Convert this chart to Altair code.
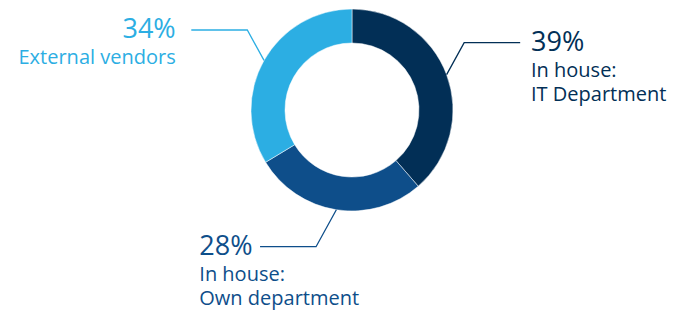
import math
import altair as alt
import pandas as pd

# ---- data ----
categories = ["In house: IT Department", "In house: Own department", "External vendors"]
values = [39, 28, 34]
pct_labels = ["39%", "28%", "34%"]
label_lines = [["In house:", "IT Department"], ["In house:", "Own department"], ["External vendors"]]
colors = ["#022F56", "#0E4E8A", "#2CAEE3"]

# ---- layout (pixels, chart coords) ----
CX, CY = 344, 102
R_IN, R_OUT = 67, 101
FONT = "Open Sans"
NUM_SIZE = 27
LAB_SIZE = 20
# per label: y of horizontal leader, horizontal direction, text anchor x, text align
layout = [
    dict(line_y=34.7, dir=1, text_x=523, align="left"),
    dict(line_y=238.7, dir=-1, text_x=191.3, align="left"),
    dict(line_y=22.0, dir=-1, text_x=167.7, align="right"),
]
SLOPE = 0.55
HLEN = 56

df = pd.DataFrame({"category": categories, "value": values, "order": list(range(len(values)))})

total = sum(values)
cum = 0
line_rows, text_rows = [], []
for i, v in enumerate(values):
    mid = (cum + v / 2) / total * 2 * math.pi
    cum += v
    sx = CX + R_OUT * math.sin(mid)
    sy = CY - R_OUT * math.cos(mid)
    L = layout[i]
    ey = L["line_y"]
    ex = sx + L["dir"] * SLOPE * abs(ey - sy)
    hx = ex + L["dir"] * HLEN
    for j, (px, py) in enumerate([(sx, sy), (ex, ey), (hx, ey)]):
        line_rows.append(dict(g=i, seq=j, px=px, py=py, c=colors[i]))
    ty = ey + 8
    text_rows.append(dict(tx=L["text_x"], ty=ty, t=pct_labels[i], c=colors[i], s=NUM_SIZE, a=L["align"]))
    for k, ln in enumerate(label_lines[i]):
        text_rows.append(dict(tx=L["text_x"], ty=ty + 26 + 24 * k, t=ln, c=colors[i], s=LAB_SIZE, a=L["align"]))

lines_df = pd.DataFrame(line_rows)
text_df = pd.DataFrame(text_rows)

donut = alt.Chart(df).mark_arc(innerRadius=R_IN, outerRadius=R_OUT, stroke="white", strokeWidth=0.5).encode(
    theta=alt.Theta("value:Q", stack=True),
    color=alt.Color("category:N", scale=alt.Scale(domain=categories, range=colors), legend=None),
    order=alt.Order("order:Q"),
    x=alt.value(CX),
    y=alt.value(CY),
)

leaders = alt.Chart(lines_df).mark_line(strokeWidth=1.3).encode(
    x=alt.X("px:Q", scale=None),
    y=alt.Y("py:Q", scale=None),
    detail="g:N",
    order="seq:Q",
    color=alt.Color("c:N", scale=None),
)

def text_layer(align):
    return alt.Chart(text_df[text_df["a"] == align]).mark_text(
        align=align, baseline="alphabetic", font=FONT
    ).encode(
        x=alt.X("tx:Q", scale=None),
        y=alt.Y("ty:Q", scale=None),
        text="t:N",
        color=alt.Color("c:N", scale=None),
        size=alt.Size("s:Q", scale=None),
    )

chart = alt.layer(donut, leaders, text_layer("left"), text_layer("right")).properties(
    width=660, height=302, padding=0, autosize="none"
).configure_view(stroke=None)

chart.save("out.html", embed_options={"renderer": "svg", "actions": False})
